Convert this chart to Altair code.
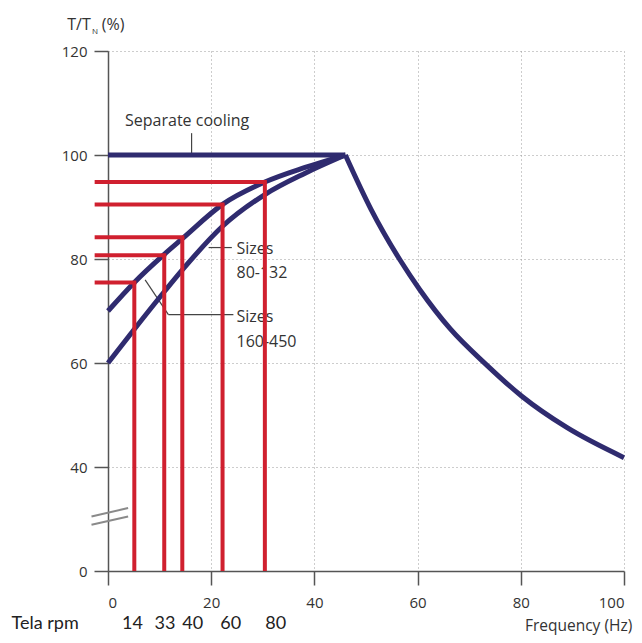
import altair as alt
import pandas as pd

# ---------------- data ----------------
sep_freq = [0, 46]
sep_torque = [100, 100]
small_freq = [0, 5.1, 10.9, 14.4, 22.2, 30.4, 38.2, 46]        # Sizes 80-132
small_torque = [70, 75.5, 80.9, 83.9, 90.5, 94.8, 97.6, 100]
large_freq = [0, 5.1, 10.9, 14.4, 22.2, 30.4, 38.2, 46]        # Sizes 160-450
large_torque = [60, 66.5, 73.7, 77.9, 86.3, 92.4, 96.5, 100]
field_freq = [46, 51, 56.6, 60.5, 66.3, 73.4, 80.2, 88.9, 100]  # field weakening
field_torque = [100, 89.5, 79.8, 74.0, 66.6, 59.6, 53.6, 47.6, 41.8]

op_freq = [5.1, 10.9, 14.4, 22.2, 30.4]        # red operating points
op_torque = [75.5, 80.7, 84.2, 90.5, 94.8]

rpm_labels = ["14", "33", "40", "60", "80"]
rpm_label_freq = [4.75, 11.05, 16.4, 23.8, 32.5]

x_ticks = [0, 20, 40, 60, 80, 100]
y_tick_labels = [0, 40, 60, 80, 100, 120]


# broken y axis: 0 sits one grid step below 40
def yd(v):
    return v - 20 if v >= 40 else v / 2.0


NAVY = "#2f2b6f"
RED = "#d0202f"
TXT = "#333333"
FONT = "Open Sans"

y_vals = [yd(v) for v in y_tick_labels]

X_SCALE = alt.Scale(domain=[0, 100], nice=False, zero=False)
Y_SCALE = alt.Scale(domain=[0, 100], nice=False, zero=False)
X_AXIS = alt.Axis(values=x_ticks, title=None, grid=True)
Y_AXIS = alt.Axis(values=y_vals, title=None, grid=True,
                  labelExpr="datum.value == 0 ? '0' : format(datum.value + 20, 'd')")


def X(field):
    return alt.X(f"{field}:Q", scale=X_SCALE, axis=X_AXIS)


def Y(field):
    return alt.Y(f"{field}:Q", scale=Y_SCALE, axis=Y_AXIS)


def text_layer(xs, ys, texts, align, size, font=FONT, color=TXT):
    df = pd.DataFrame({"x": xs, "y": ys, "text": texts})
    return alt.Chart(df).mark_text(align=align, baseline="middle", font=font,
                                   fontSize=size, color=color).encode(
        x=X("x"), y=Y("y"), text="text:N")


# ---------------- curves ----------------
rows = []
for name, fs, ts in [("sep", sep_freq, sep_torque),
                     ("small", small_freq, small_torque),
                     ("large", large_freq, large_torque),
                     ("field", field_freq, field_torque)]:
    for i, (f, t) in enumerate(zip(fs, ts)):
        rows.append({"series": name, "i": i, "f": f, "t": yd(t)})
curves_df = pd.DataFrame(rows)

curves = alt.Chart(curves_df).mark_line(
    color=NAVY, strokeWidth=5, interpolate="monotone"
).encode(x=X("f"), y=Y("t"), detail="series:N", order="i:Q")

# ---------------- red operating lines ----------------
op_df = pd.DataFrame({"f": op_freq, "t": [yd(v) for v in op_torque]})
op_df["x0"] = -2.2
op_df["y0"] = 0.0

red_h = alt.Chart(op_df).mark_rule(color=RED, strokeWidth=4, strokeCap="square").encode(
    x=X("x0"), x2="f", y=Y("t"))
red_v = alt.Chart(op_df).mark_rule(color=RED, strokeWidth=4).encode(
    x=X("f"), y=Y("y0"), y2="t")

# ---------------- leader lines ----------------
lead_df = pd.DataFrame({
    "x1": [16.2, 19.5, 7.2, 11.7],
    "x2": [16.2, 24.0, 11.7, 24.3],
    "y1": [yd(104.2), yd(82.2), yd(76.0), yd(69.3)],
    "y2": [yd(100.0), yd(82.2), yd(69.3), yd(69.3)],
})
leaders = alt.Chart(lead_df).mark_rule(color="#444444", strokeWidth=1.2).encode(
    x=X("x1"), x2="x2", y=Y("y1"), y2="y2")

# axis break marks
brk_df = pd.DataFrame({"x1": [-3.2, -3.2], "x2": [3.9, 3.9],
                       "y1": [10.5, 8.9], "y2": [12.1, 10.5]})
breaks = alt.Chart(brk_df).mark_rule(color="#8a8a8a", strokeWidth=2).encode(
    x=X("x1"), x2="x2", y=Y("y1"), y2="y2")

# ---------------- texts ----------------
ann = text_layer([3.3, 24.9, 24.9, 24.9, 24.9],
                 [yd(106.5), yd(81.9), yd(77.25), yd(68.8), yd(64.1)],
                 ["Separate cooling", "Sizes", "80-132", "Sizes", "160-450"],
                 "left", 16)

title_main = text_layer([-3.35], [105.0], ["T/T"], "right", 16)
title_sub = text_layer([-3.1], [103.7], ["N"], "left", 8)
title_pct = text_layer([-1.2], [105.0], ["(%)"], "left", 16)

rpm = text_layer(rpm_label_freq, [-10.2] * len(rpm_labels), rpm_labels, "center", 18,
                 font="Lato", color="#222222")
tela = text_layer([-18.7], [-10.2], ["Tela rpm"], "left", 18, font="Lato", color="#222222")
freq_title = text_layer([101.6], [-10.6], ["Frequency (Hz)"], "right", 15.5)

chart = alt.layer(
    ann, leaders, breaks, curves, red_h, red_v,
    title_main, title_sub, title_pct, rpm, tela, freq_title
).properties(
    width=516, height=520,
    autosize=alt.AutoSizeParams(type="none"),
    padding={"left": 100, "top": 43, "right": 10, "bottom": 64},
    background="white",
).configure_axis(
    domainColor="#555555", domainWidth=1.5,
    tickColor="#555555", tickWidth=1.5, tickSize=14,
    labelFont=FONT, labelFontSize=15, labelColor=TXT,
    gridColor="#9a9a9a", gridDash=[1, 3], gridWidth=1,
).configure_axisY(labelPadding=7).configure_axisX(labelPadding=10).configure_view(strokeWidth=0)

chart.save("out.html", embed_options={"renderer": "svg", "actions": False})
